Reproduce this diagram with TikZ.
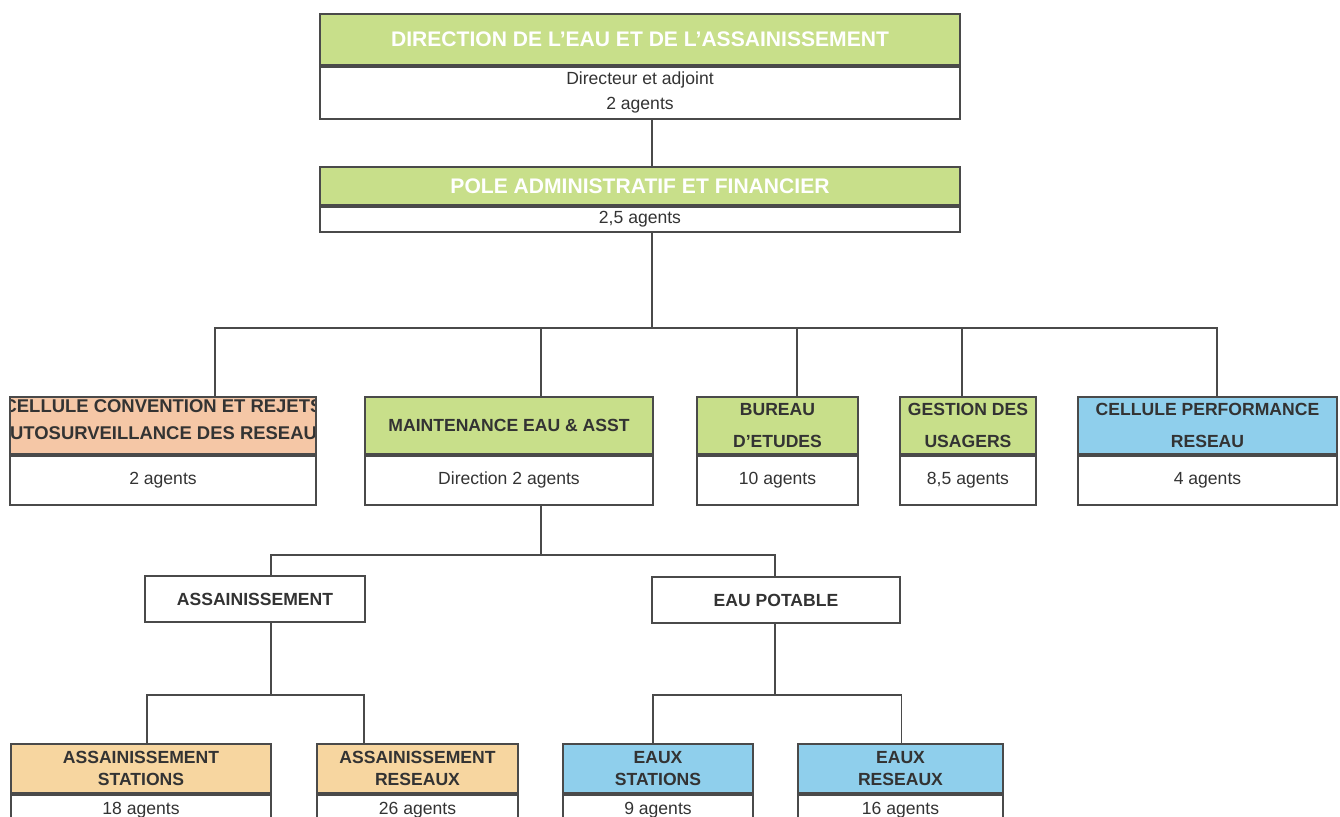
\documentclass[tikz,border=0pt]{standalone}
\usepackage{fontspec}
\setmainfont{Liberation Sans}
\usetikzlibrary{positioning}

\definecolor{ink}{HTML}{333333}
\definecolor{frame}{HTML}{4A4A4A}
\definecolor{leaf}{HTML}{C8DF8A}
\definecolor{salmon}{HTML}{F5C7A6}
\definecolor{peach}{HTML}{F7D6A0}
\definecolor{sky}{HTML}{8FCFEC}

\tikzset{
  head/.style={draw=frame, line width=1pt, inner sep=0pt, align=center, text=ink,
    font=\bfseries\fontsize{10}{18}\selectfont},
  teamhead/.style={head, font=\bfseries\fontsize{10}{13}\selectfont},
  body/.style={draw=frame, line width=1pt, fill=white, inner sep=0pt, align=center, text=ink,
    font=\fontsize{10}{14}\selectfont},
  link/.style={draw=frame, line width=1pt},
}

\begin{document}
\begin{tikzpicture}[x=0.02cm,y=-0.02cm]
\clip (0,0) rectangle (1340,817);
\fill[white] (0,0) rectangle (1340,817);

% direction and pole
\node[head, fill=leaf, text=white, font=\bfseries\fontsize{12}{14}\selectfont,
  minimum width=12.8cm, minimum height=1.02cm] (dirH) at (640,39.5) {DIRECTION DE L'EAU ET DE L'ASSAINISSEMENT};
\node[body, minimum width=12.8cm, minimum height=1.04cm, below=0pt of dirH] (dirB) {Directeur et adjoint\\2 agents};

\node[head, fill=leaf, text=white, font=\bfseries\fontsize{12}{14}\selectfont,
  minimum width=12.8cm, minimum height=0.76cm] (poleH) at (640,186) {POLE ADMINISTRATIF ET FINANCIER};
\node[body, minimum width=12.8cm, minimum height=0.5cm, below=0pt of poleH] (poleB) {2,5 agents};

% services
\node[head, fill=salmon, minimum width=6.12cm, minimum height=1.14cm,
  path picture={\node[draw=none, fill=none, inner sep=0pt, align=center, text=ink,
    font=\bfseries\fontsize{10.5}{15}\selectfont] at ([yshift=0.12cm]path picture bounding box.center)
    {CELLULE CONVENTION ET REJETS\\AUTOSURVEILLANCE DES RESEAUX};}] (convH) at (163,425.5) {};
\node[body, minimum width=6.12cm, minimum height=0.98cm, below=0pt of convH] (convB) {2 agents};

\node[head, fill=leaf, minimum width=5.76cm, minimum height=1.14cm] (maintH) at (509,425.5) {MAINTENANCE EAU \& ASST};
\node[body, minimum width=5.76cm, minimum height=0.98cm, below=0pt of maintH] (maintB) {Direction 2 agents};

\node[head, fill=leaf, minimum width=3.22cm, minimum height=1.14cm] (bureauH) at (777.5,425.5) {BUREAU\\D'ETUDES};
\node[body, minimum width=3.22cm, minimum height=0.98cm, below=0pt of bureauH] (bureauB) {10 agents};

\node[head, fill=leaf, minimum width=2.72cm, minimum height=1.14cm] (gestionH) at (968,425.5) {GESTION DES\\USAGERS};
\node[body, minimum width=2.72cm, minimum height=0.98cm, below=0pt of gestionH] (gestionB) {8,5 agents};

\node[head, fill=sky, minimum width=5.18cm, minimum height=1.14cm] (perfH) at (1207.5,425.5) {CELLULE PERFORMANCE\\RESEAU};
\node[body, minimum width=5.18cm, minimum height=0.98cm, below=0pt of perfH] (perfB) {4 agents};

% branches of the maintenance
\node[head, fill=white, minimum width=4.4cm, minimum height=0.92cm] (assH) at (255,599) {ASSAINISSEMENT};
\node[head, fill=white, minimum width=4.96cm, minimum height=0.92cm] (eauH) at (776,600) {EAU POTABLE};

% teams
\node[teamhead, fill=peach, minimum width=5.2cm, minimum height=0.98cm] (astatH) at (141,768.5) {ASSAINISSEMENT\\STATIONS};
\node[body, minimum width=5.2cm, minimum height=0.6cm, below=0pt of astatH] (astatB) {18 agents};

\node[teamhead, fill=peach, minimum width=4.02cm, minimum height=0.98cm] (aresH) at (417.5,768.5) {ASSAINISSEMENT\\RESEAUX};
\node[body, minimum width=4.02cm, minimum height=0.6cm, below=0pt of aresH] (aresB) {26 agents};

\node[teamhead, fill=sky, minimum width=3.8cm, minimum height=0.98cm] (estatH) at (658,768.5) {EAUX\\STATIONS};
\node[body, minimum width=3.8cm, minimum height=0.6cm, below=0pt of estatH] (estatB) {9 agents};

\node[teamhead, fill=sky, minimum width=4.1cm, minimum height=0.98cm] (eresH) at (900.5,768.5) {EAUX\\RESEAUX};
\node[body, minimum width=4.1cm, minimum height=0.6cm, below=0pt of eresH] (eresB) {16 agents};

% links
\coordinate (hub) at (652,328);
\coordinate (subhub) at (541,555);
\coordinate (abus) at (271,695);
\coordinate (ebus) at (775,695);

\draw[link] ([xshift=0.24cm]dirB.south) -- ([xshift=0.24cm]poleH.north);
\draw[link] ([xshift=0.24cm]poleB.south) -- (hub);
\foreach \n/\dx in {convH/1.04, maintH/0.64, bureauH/0.39, gestionH/-0.12, perfH/0.19}
  \draw[link] (hub) -| ([xshift=\dx cm]\n.north);

\draw[link] ([xshift=0.64cm]maintB.south) -- (subhub);
\draw[link] (subhub) -| ([xshift=0.32cm]assH.north);
\draw[link] (subhub) -| ([xshift=-0.02cm]eauH.north);

\draw[link] ([xshift=0.32cm]assH.south) -- (abus);
\draw[link] (abus) -| ([xshift=0.12cm]astatH.north);
\draw[link] (abus) -| ([xshift=-1.07cm]aresH.north);
\draw[link] ([xshift=-0.02cm]eauH.south) -- (ebus);
\draw[link] (ebus) -| ([xshift=-0.1cm]estatH.north);
\draw[link] (ebus) -| ([xshift=0.02cm]eresH.north);
\end{tikzpicture}
\end{document}
